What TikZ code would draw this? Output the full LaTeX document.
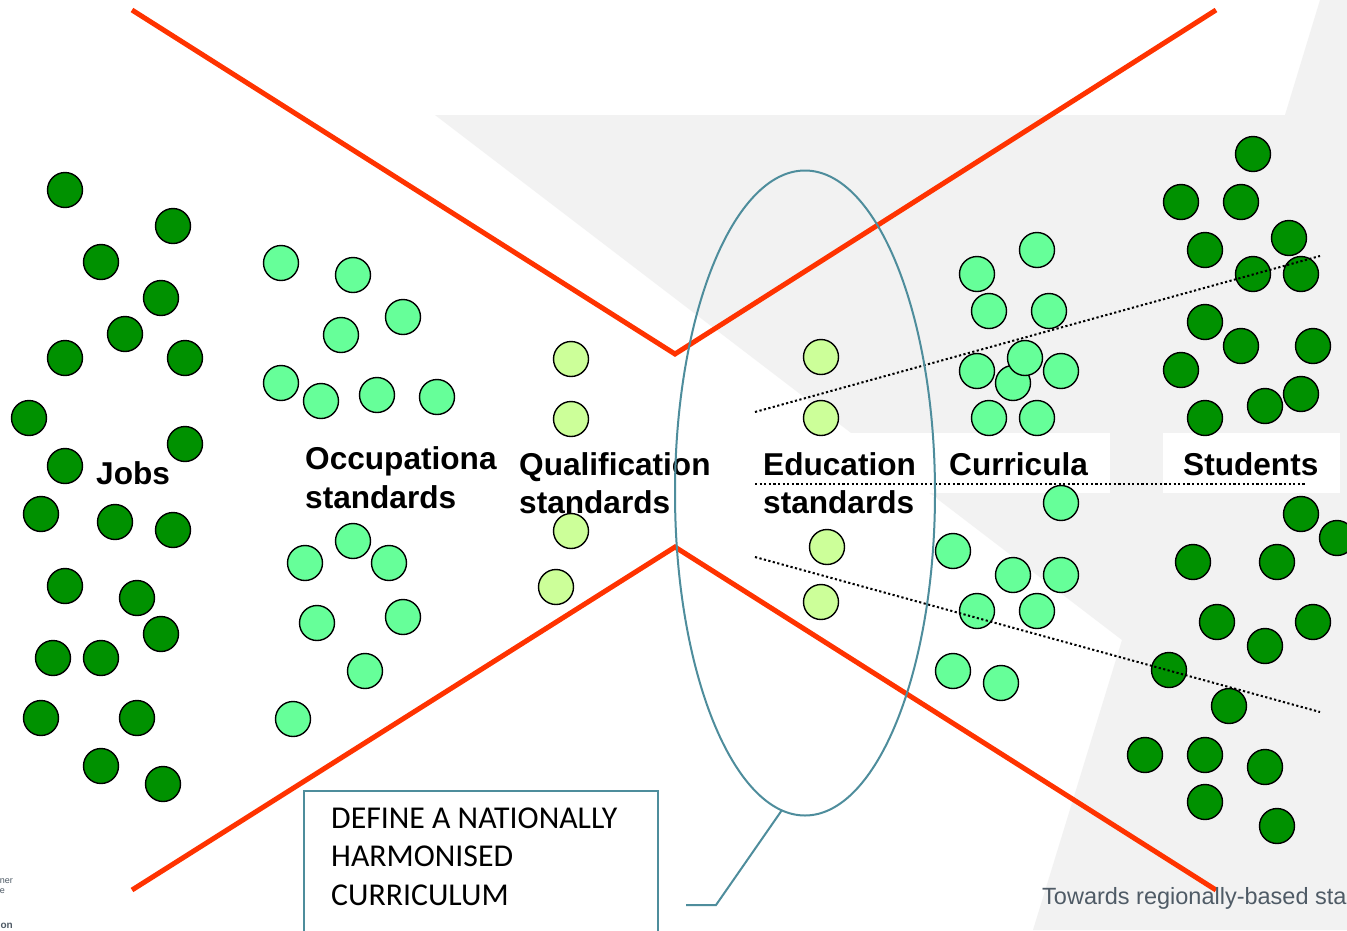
\documentclass[tikz,border=0pt]{standalone}
\usepackage{fontspec}
\setmainfont{Liberation Sans}
\newfontfamily\calib{Carlito}
\usetikzlibrary{shapes.geometric}
\definecolor{dkgreen}{HTML}{009100}
\definecolor{ltgreen}{HTML}{66FF99}
\definecolor{palegreen}{HTML}{CCFF99}
\definecolor{redline}{HTML}{FF3300}
\definecolor{tealline}{HTML}{4E8D9C}
\definecolor{bggray}{HTML}{F2F2F2}
\definecolor{foot}{HTML}{4F5B66}
\begin{document}
\begin{tikzpicture}[x=1pt,y=-1pt,
  dot/.style={circle,draw=black,line width=1.4pt,minimum size=35pt,inner sep=0pt},
  jobc/.style={dot,fill=dkgreen},
  occc/.style={dot,fill=ltgreen},
  qualc/.style={dot,fill=palegreen},
  redl/.style={draw=redline,line width=5pt},
  dotl/.style={draw=black,line width=2pt,dash pattern=on 2.2pt off 2.4pt},
  lbl/.style={anchor=base west,inner sep=0pt,font=\fontsize{31.6}{36}\selectfont\bfseries},
  boxlbl/.style={anchor=base west,inner sep=0pt,font=\calib\fontsize{31.8}{38.5}\selectfont},
  tealbox/.style={draw=tealline,line width=2pt}]
\clip (0,0) rectangle (1347,930);
\fill[white] (0,0) rectangle (1347,930);
% background shape
\fill[bggray] (435,115) -- (1285,115) -- (1320,0) -- (1347,0) -- (1347,930) -- (1033,930) -- (1122,640) -- cycle;
\fill[white] (755,433) rectangle (1110,493);
\fill[white] (1163,433) rectangle (1340,493);
% red X
\coordinate (ua) at (675,354);
\coordinate (la) at (675,547);
\coordinate (ul) at (132,10);
\coordinate (ur) at (1216,10);
\coordinate (ll) at (132,890);
\coordinate (lr) at (1216,890);
\draw[redl] (ul) -- (ua) -- (ur);
\draw[redl] (ll) -- (la) -- (lr);
% Jobs
\foreach \x/\y [count=\i] in {65/190,173/226,101/262,161/298,125/334,65/358,185/358,29/418,185/444,65/466,41/514,115/522,173/530,65/586,137/598,161/634,53/658,101/658,41/718,137/718,101/766,163/784}
  \node[jobc] (j\i) at (\x,\y) {};
% Occupational standards
\foreach \x/\y [count=\i] in {281/263,353/275,403/317,341/335,281/383,321/401,377/395,437/397,353/541,305/563,389/563,317/623,403/617,365/671,293/719}
  \node[occc] (o\i) at (\x,\y) {};
% Qualification standards
\foreach \x/\y [count=\i] in {571/359,571/419,571/531,556/587}
  \node[qualc] (q\i) at (\x,\y) {};
% Education standards
\foreach \x/\y [count=\i] in {821/357,821/418,827/547,821/602}
  \node[qualc] (e\i) at (\x,\y) {};
% Curricula
\foreach \x/\y [count=\i] in {977/274,1037/250,989/311,1049/311,977/371,1013/383,1025/358,1061/371,989/418,1037/418,1061/503,953/551,1013/575,1061/575,977/611,1037/611,953/671,1001/683}
  \node[occc] (c\i) at (\x,\y) {};
% Students
\foreach \x/\y [count=\i] in {1253/154,1181/202,1241/202,1205/250,1289/238,1253/274,1301/274,1205/322,1241/346,1313/346,1181/370,1265/406,1301/394,1205/418,1301/514,1337/538,1193/562,1277/562,1217/622,1313/622,1265/646,1169/670,1229/706,1145/755,1205/755,1265/767,1205/802,1277/826}
  \node[jobc] (s\i) at (\x,\y) {};
% dotted lines
\coordinate (d1a) at (755,412);
\coordinate (d1b) at (1320,256);
\coordinate (d2a) at (755,484);
\coordinate (d2b) at (1305,484);
\coordinate (d3a) at (755,557);
\coordinate (d3b) at (1320,712);
\draw[dotl] (d1a) -- (d1b);
\draw[dotl] (d2a) -- (d2b);
\draw[dotl] (d3a) -- (d3b);
% labels
\node[lbl] (tjobs) at (96,484) {Jobs};
\node[lbl] (tocc1) at (305,469) {Occupationa};
\node[lbl] (tocc2) at (305,508) {standards};
\node[lbl] (tqual1) at (519,475) {Qualification};
\node[lbl] (tqual2) at (519,513) {standards};
\node[lbl] (tedu1) at (763,475) {Education};
\node[lbl] (tedu2) at (763,513) {standards};
\node[lbl] (tcur) at (949,475) {Curricula};
\node[lbl] (tstu) at (1183,475) {Students};
% ellipse
\node[draw=tealline,line width=2pt,ellipse,minimum width=260pt,minimum height=645pt,inner sep=0pt] (ell) at (805,493) {};
% callout
\node[tealbox,anchor=north west,minimum width=354pt,minimum height=170pt,inner sep=0pt] (box) at (303,790) {};
\node[boxlbl] (bt1) at (331,828) {DEFINE A NATIONALLY};
\node[boxlbl] (bt2) at (331,866) {HARMONISED};
\node[boxlbl] (bt3) at (331,905) {CURRICULUM};
\coordinate (cs) at (686,905);
\coordinate (cbend) at (716,905);
\coordinate (ctip) at (782,810);
\draw[draw=tealline,line width=2pt] (cs) -- (cbend) -- (ctip);
% footer
\node[anchor=base west,inner sep=0pt,text=foot,font=\fontsize{23.5}{28}\selectfont] (footer) at (1042,904) {Towards regionally-based standards};
\node[anchor=base east,inner sep=0pt,text=foot,font=\fontsize{9}{10}\selectfont] (frag1) at (13,883) {ner};
\node[anchor=base east,inner sep=0pt,text=foot,font=\fontsize{9}{10}\selectfont] (frag2) at (5,893) {e};
\node[anchor=base east,inner sep=0pt,text=foot,font=\fontsize{10}{11}\selectfont\bfseries] (frag3) at (13,928) {on};
\end{tikzpicture}
\end{document}
